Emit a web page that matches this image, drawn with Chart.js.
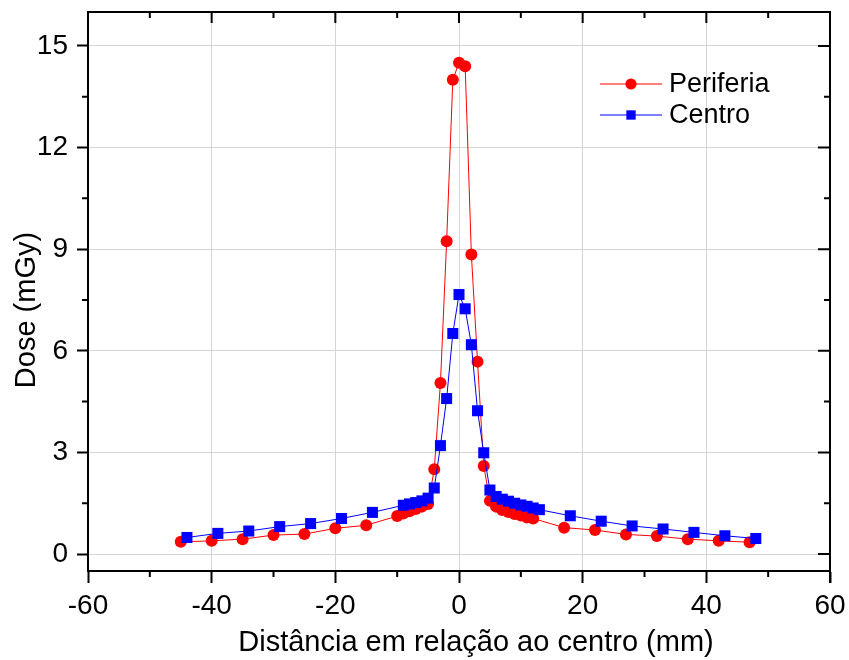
<!DOCTYPE html>
<html>
<head>
<meta charset="utf-8">
<script src="https://cdn.jsdelivr.net/npm/chart.js@4.4.1/dist/chart.umd.min.js"></script>
<style>
  html, body { margin: 0; padding: 0; background: #ffffff; }
  #wrap { width: 849px; height: 660px; position: relative; }
</style>
</head>
<body>
<div id="wrap"><canvas id="c" width="849" height="660"></canvas></div>
<script>
// ---- data ----
const periferiaLabel = 'Periferia';
const centroLabel = 'Centro';
const periferiaX = [-45,-40,-35,-30,-25,-20,-15,-10,-9,-8,-7,-6,-5,-4,-3,-2,-1,0,1,2,3,4,5,6,7,8,9,10,11,12,17,22,27,32,37,42,47];
const periferiaY = [0.36,0.39,0.44,0.56,0.59,0.76,0.85,1.12,1.20,1.26,1.33,1.40,1.48,2.50,5.05,9.23,14.0,14.5,14.4,8.84,5.68,2.60,1.57,1.40,1.30,1.24,1.18,1.14,1.08,1.05,0.78,0.71,0.58,0.53,0.44,0.39,0.35];
const centroX = [-44,-39,-34,-29,-24,-19,-14,-9,-8,-7,-6,-5,-4,-3,-2,-1,0,1,2,3,4,5,6,7,8,9,10,11,12,13,18,23,28,33,38,43,48];
const centroY = [0.49,0.61,0.68,0.81,0.90,1.05,1.23,1.44,1.48,1.52,1.57,1.65,1.95,3.20,4.59,6.51,7.66,7.24,6.18,4.23,2.99,1.89,1.70,1.62,1.56,1.50,1.45,1.41,1.36,1.31,1.13,0.97,0.83,0.74,0.64,0.54,0.46];
const xTicks = [-60,-40,-20,0,20,40,60];
const xMinorTicks = [-50,-30,-10,10,30,50];
const yTicks = [0,3,6,9,12,15];
const yMinorTicks = [1.5,4.5,7.5,10.5,13.5];
const xTitle = 'Distância em relação ao centro (mm)';
const yTitle = 'Dose (mGy)';

const FONT = "'Liberation Sans', Arial, sans-serif";
const toXY = (xs, ys) => xs.map((x, i) => ({x: x, y: ys[i]}));

const framePlugin = {
  id: 'frame',
  afterDraw(chart) {
    const ctx = chart.ctx;
    const a = chart.chartArea;
    const xs = chart.scales.x, ys = chart.scales.y;
    ctx.save();
    ctx.strokeStyle = '#000';
    ctx.lineWidth = 2;
    ctx.beginPath();
    // top and right frame
    ctx.moveTo(a.left - 1, a.top); ctx.lineTo(a.right, a.top); ctx.lineTo(a.right, a.bottom + 12);
    ctx.stroke();
    // minor outward ticks bottom and left, inward ticks top and right
    ctx.beginPath();
    xMinorTicks.forEach(v => {
      const p = xs.getPixelForValue(v);
      ctx.moveTo(p, a.bottom); ctx.lineTo(p, a.bottom + 6);
      ctx.moveTo(p, a.top); ctx.lineTo(p, a.top + 6);
    });
    xTicks.forEach(v => {
      const p = xs.getPixelForValue(v);
      ctx.moveTo(p, a.top); ctx.lineTo(p, a.top + 11);
    });
    yMinorTicks.forEach(v => {
      const p = ys.getPixelForValue(v);
      ctx.moveTo(a.left, p); ctx.lineTo(a.left - 6, p);
      ctx.moveTo(a.right, p); ctx.lineTo(a.right - 6, p);
    });
    yTicks.forEach(v => {
      const p = ys.getPixelForValue(v);
      ctx.moveTo(a.right, p); ctx.lineTo(a.right - 12, p);
    });
    ctx.stroke();

    // axis titles
    ctx.fillStyle = '#000';
    ctx.font = '29px ' + FONT;
    ctx.textAlign = 'center';
    ctx.textBaseline = 'middle';
    ctx.fillText(xTitle, 476, 643);
    ctx.save();
    ctx.translate(27, 310);
    ctx.rotate(-Math.PI / 2);
    ctx.fillText(yTitle, 0, 0);
    ctx.restore();

    // legend
    const items = [0, 1];
    const rows = [84, 115];
    items.forEach((di, k) => {
      const ds = chart.data.datasets[di];
      const y = rows[k];
      ctx.strokeStyle = ds.borderColor;
      ctx.lineWidth = 1;
      ctx.beginPath();
      ctx.moveTo(600, y); ctx.lineTo(662, y);
      ctx.stroke();
      ctx.fillStyle = ds.pointBackgroundColor;
      ctx.strokeStyle = ds.pointBorderColor;
      Chart.helpers.drawPoint(ctx, {
        pointStyle: ds.pointStyle, rotation: 0, borderWidth: 0,
        radius: ds.pointStyle === 'rect' ? 6.6 : 5.6
      }, 631, y);
      ctx.fillStyle = '#000';
      ctx.font = '27px ' + FONT;
      ctx.textAlign = 'left';
      ctx.textBaseline = 'middle';
      ctx.fillText(ds.label, 669, y + 1);
    });
    ctx.restore();
  }
};

new Chart(document.getElementById('c'), {
  type: 'line',
  data: {
    datasets: [
      {
        label: periferiaLabel,
        data: toXY(periferiaX, periferiaY),
        borderColor: '#ff0000',
        backgroundColor: '#ff0000',
        pointBackgroundColor: '#ff0000',
        pointBorderColor: '#ff0000',
        pointStyle: 'circle',
        pointRadius: 6,
        pointBorderWidth: 0,
        borderWidth: 1,
        tension: 0,
        order: 1
      },
      {
        label: centroLabel,
        data: toXY(centroX, centroY),
        borderColor: '#0000ff',
        backgroundColor: '#0000ff',
        pointBackgroundColor: '#0000ff',
        pointBorderColor: '#0000ff',
        pointStyle: 'rect',
        pointRadius: 7.8,
        pointBorderWidth: 0,
        borderWidth: 1,
        tension: 0,
        order: 0
      }
    ]
  },
  options: {
    responsive: false,
    animation: false,
    devicePixelRatio: 1,
    layout: { padding: { left: 0, right: 19, top: 12, bottom: 0 } },
    plugins: {
      legend: { display: false },
      tooltip: { enabled: false }
    },
    scales: {
      x: {
        type: 'linear',
        min: -60, max: 60,
        afterBuildTicks: s => { s.ticks = xTicks.map(v => ({value: v})); },
        afterFit: s => { s.height = 89; s.paddingLeft = 0; s.paddingRight = 0; },
        grid: { color: '#d4d4d4', lineWidth: 1, tickColor: '#000', tickLength: 12, tickWidth: 2, drawTicks: true },
        border: { display: true, color: '#000', width: 2 },
        ticks: { color: '#000', font: { family: FONT, size: 28 }, padding: 6, maxRotation: 0 }
      },
      y: {
        type: 'linear',
        min: -0.5, max: 16,
        afterBuildTicks: s => { s.ticks = yTicks.map(v => ({value: v})); },
        afterFit: s => { s.width = 88; s.paddingTop = 0; s.paddingBottom = 0; },
        grid: { color: '#d4d4d4', lineWidth: 1, tickColor: '#000', tickLength: 11, tickWidth: 2, drawTicks: true },
        border: { display: true, color: '#000', width: 2 },
        ticks: { color: '#000', font: { family: FONT, size: 28 }, padding: 9 }
      }
    }
  },
  plugins: [framePlugin]
});
</script>
</body>
</html>
